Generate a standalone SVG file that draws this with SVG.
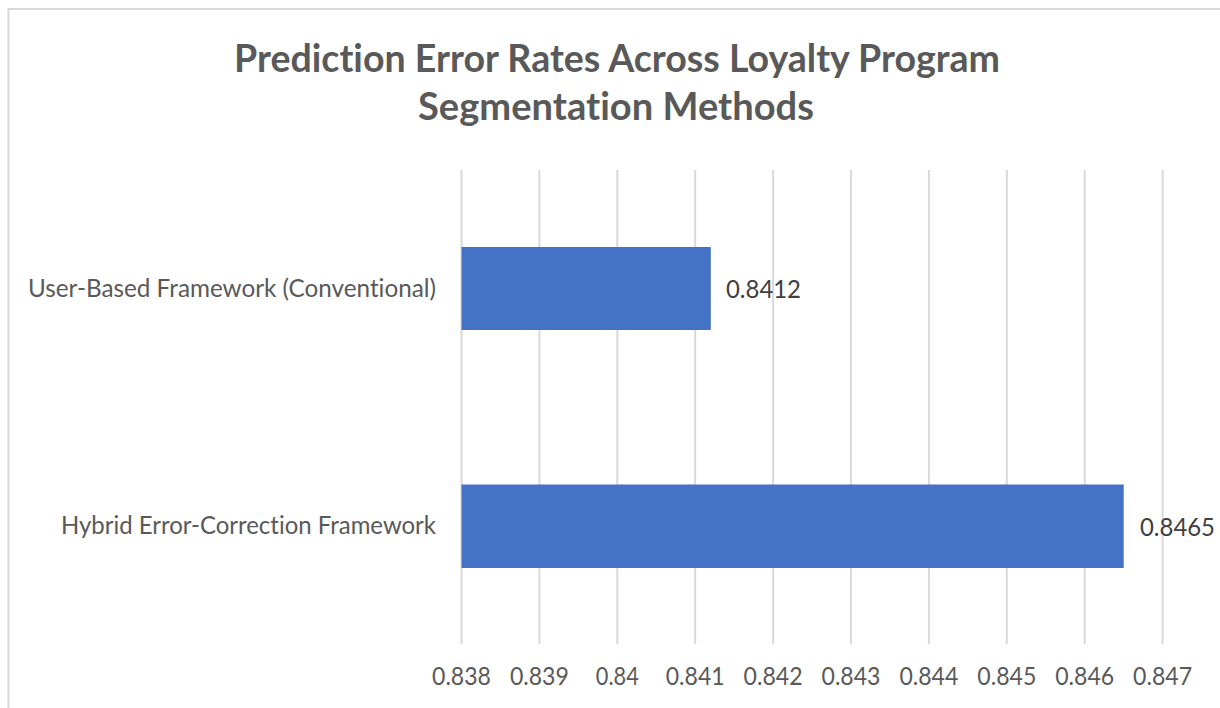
<svg xmlns="http://www.w3.org/2000/svg" width="1220" height="708" viewBox="0 0 1220 708">
<style>
.t{font-family:Lato,"Open Sans","Liberation Sans",sans-serif;fill:#595959;font-variant-ligatures:none;font-feature-settings:"liga" 0,"clig" 0,"dlig" 0}
.title{font-size:39px;font-weight:bold;text-anchor:middle}
.ax{font-size:25px;text-anchor:middle}
.cat{font-size:25px;text-anchor:end}
.val{font-size:25px;fill:#404040}
.grid line{stroke:#d9d9d9;stroke-width:2}
.bar{fill:#4472c4}
</style>
<rect x="0" y="0" width="1220" height="708" fill="#ffffff"/>
<rect x="8.5" y="9" width="1400" height="900" fill="none" stroke="#d9d9d9" stroke-width="2"/>
<g id="title">
<text class="t title" x="617" y="72" textLength="766" lengthAdjust="spacingAndGlyphs">Prediction Error Rates Across Loyalty Program</text>
<text class="t title" x="616" y="120" textLength="396" lengthAdjust="spacingAndGlyphs">Segmentation Methods</text>
</g>
<g id="gridlines" class="grid">
<line x1="461.5" y1="170" x2="461.5" y2="644"/>
<line x1="539.4" y1="170" x2="539.4" y2="644"/>
<line x1="617.3" y1="170" x2="617.3" y2="644"/>
<line x1="695.2" y1="170" x2="695.2" y2="644"/>
<line x1="773.1" y1="170" x2="773.1" y2="644"/>
<line x1="851" y1="170" x2="851" y2="644"/>
<line x1="928.9" y1="170" x2="928.9" y2="644"/>
<line x1="1006.8" y1="170" x2="1006.8" y2="644"/>
<line x1="1084.7" y1="170" x2="1084.7" y2="644"/>
<line x1="1162.6" y1="170" x2="1162.6" y2="644"/>
</g>
<g id="axis-labels">
<text class="t ax" x="461.5" y="685" textLength="59" lengthAdjust="spacingAndGlyphs">0.838</text>
<text class="t ax" x="539.4" y="685" textLength="59" lengthAdjust="spacingAndGlyphs">0.839</text>
<text class="t ax" x="617.3" y="685" textLength="43" lengthAdjust="spacingAndGlyphs">0.84</text>
<text class="t ax" x="695.2" y="685" textLength="59" lengthAdjust="spacingAndGlyphs">0.841</text>
<text class="t ax" x="773.1" y="685" textLength="59" lengthAdjust="spacingAndGlyphs">0.842</text>
<text class="t ax" x="851" y="685" textLength="59" lengthAdjust="spacingAndGlyphs">0.843</text>
<text class="t ax" x="928.9" y="685" textLength="59" lengthAdjust="spacingAndGlyphs">0.844</text>
<text class="t ax" x="1006.8" y="685" textLength="59" lengthAdjust="spacingAndGlyphs">0.845</text>
<text class="t ax" x="1084.7" y="685" textLength="59" lengthAdjust="spacingAndGlyphs">0.846</text>
<text class="t ax" x="1162.6" y="685" textLength="59" lengthAdjust="spacingAndGlyphs">0.847</text>
</g>
<g id="bar-user-based">
<text class="t cat" x="436" y="297" textLength="408" lengthAdjust="spacingAndGlyphs">User-Based Framework (Conventional)</text>
<rect class="bar" x="461.5" y="247" width="249.3" height="83"/>
<text class="t val" x="726" y="298" textLength="75" lengthAdjust="spacingAndGlyphs">0.8412</text>
</g>
<g id="bar-hybrid">
<text class="t cat" x="436" y="534" textLength="375" lengthAdjust="spacingAndGlyphs">Hybrid Error-Correction Framework</text>
<rect class="bar" x="461.5" y="484.5" width="662.2" height="83.5"/>
<text class="t val" x="1140" y="536" textLength="75" lengthAdjust="spacingAndGlyphs">0.8465</text>
</g>
</svg>
